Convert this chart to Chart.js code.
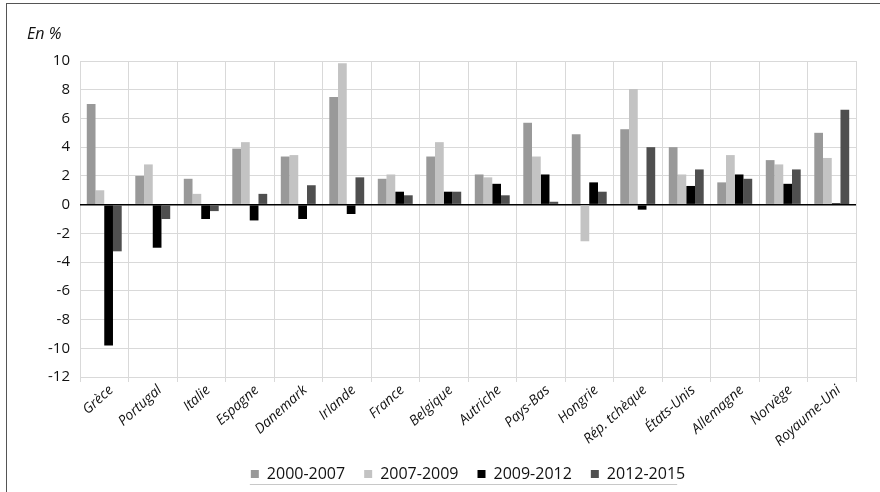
<!DOCTYPE html>
<html>
<head>
<meta charset="utf-8">
<script src="https://cdn.jsdelivr.net/npm/chart.js@4/dist/chart.umd.min.js"></script>
<style>
  html, body { margin: 0; padding: 0; background: #fff; }
  #wrap { position: relative; width: 880px; height: 492px; overflow: hidden; }
  #frame { position: absolute; left: 6px; top: 3px; width: 900px; height: 520px;
           border-left: 1px solid #555; border-top: 1px solid #555; }
  #unit { position: absolute; left: 27px; top: 22px; font: italic 16px "Open Sans", sans-serif; color: #111; }
  canvas { position: absolute; left: 0; top: 0; }
</style>
</head>
<body>
<div id="wrap">
  <div id="frame"></div>
  <canvas id="chart" width="880" height="492"></canvas>
  <div id="unit">En %</div>
</div>
<script>
// --- DATA ---
const countries = ["Grèce", "Portugal", "Italie", "Espagne", "Danemark", "Irlande", "France", "Belgique",
  "Autriche", "Pays-Bas", "Hongrie", "Rép. tchèque", "États-Unis", "Allemagne", "Norvège", "Royaume-Uni"];

const period2000_2007 = [7.0, 2.0, 1.8, 3.9, 3.35, 7.5, 1.8, 3.35, 2.1, 5.7, 4.9, 5.25, 4.0, 1.55, 3.1, 5.0];
const period2007_2009 = [1.0, 2.8, 0.75, 4.35, 3.45, 9.85, 2.1, 4.35, 1.9, 3.35, -2.55, 8.05, 2.1, 3.45, 2.8, 3.25];
const period2009_2012 = [-9.8, -3.0, -1.0, -1.1, -1.0, -0.65, 0.9, 0.9, 1.45, 2.1, 1.55, -0.35, 1.3, 2.1, 1.45, 0.1];
const period2012_2015 = [-3.25, -1.0, -0.45, 0.75, 1.35, 1.9, 0.65, 0.9, 0.65, 0.2, 0.9, 4.0, 2.45, 1.8, 2.45, 6.6];

// --- COLORS ---
const COLORS = {
    p1: '#999999',
    p2: '#c3c3c3',
    p3: '#000000',
    p4: '#4f4f4f'
};

const FONT = '"Open Sans", sans-serif';

// centre the legend under the plot area instead of the whole canvas,
// and draw the thin line under it
const legendTweaks = {
    id: 'legendTweaks',
    afterLayout(chart) {
        const shift = (chart.chartArea.left + chart.chartArea.right) / 2 - (chart.legend.left + chart.legend.right) / 2;
        chart.legend.left += shift;
        chart.legend.right += shift;
    },
    afterDraw(chart) {
        const boxes = chart.legend.legendHitBoxes;
        if (!boxes || !boxes.length) return;
        const first = boxes[0];
        const last = boxes[boxes.length - 1];
        const y = 484;
        const ctx = chart.ctx;
        ctx.save();
        ctx.strokeStyle = '#c8c8c8';
        ctx.lineWidth = 1;
        ctx.beginPath();
        ctx.moveTo(first.left - 1, y + 0.5);
        ctx.lineTo(last.left + last.width - 8, y + 0.5);
        ctx.stroke();
        ctx.restore();
    }
};

const ctx = document.getElementById("chart").getContext("2d");
new Chart(ctx, {
    type: "bar",
    data: {
        labels: countries,
        datasets: [
            { label: "2000-2007", data: period2000_2007, backgroundColor: COLORS.p1 },
            { label: "2007-2009", data: period2007_2009, backgroundColor: COLORS.p2 },
            { label: "2009-2012", data: period2009_2012, backgroundColor: COLORS.p3 },
            { label: "2012-2015", data: period2012_2015, backgroundColor: COLORS.p4 }
        ]
    },
    options: {
        responsive: false,
        animation: false,
        layout: { padding: { top: 61, right: 24, left: 0, bottom: 0 } },
        datasets: { bar: { categoryPercentage: 0.72, barPercentage: 1.0 } },
        scales: {
            x: {
                grid: { color: '#d9d9d9', lineWidth: 1, tickLength: 5, offset: true },
                border: { display: false },
                ticks: {
                    color: '#111',
                    font: { family: FONT, size: 14, style: 'italic' },
                    minRotation: 42,
                    maxRotation: 42,
                    autoSkip: false,
                    padding: 0,
                    labelOffset: 7
                },
                afterFit: (scale) => { scale.height = 70; }
            },
            y: {
                min: -12,
                max: 10,
                ticks: {
                    stepSize: 2,
                    color: '#111',
                    font: { family: FONT, size: 15 },
                    padding: 10
                },
                grid: {
                    color: (c) => c.tick && c.tick.value === 0 ? '#000' : '#d9d9d9',
                    lineWidth: (c) => c.tick && c.tick.value === 0 ? 1.5 : 1,
                    drawTicks: false
                },
                border: { display: false },
                afterFit: (scale) => { scale.width = 80; }
            }
        },
        plugins: {
            legend: {
                position: 'bottom',
                labels: {
                    color: '#111',
                    font: { family: FONT, size: 16 },
                    boxWidth: 8,
                    boxHeight: 8,
                    padding: 19
                }
            },
            tooltip: { enabled: false }
        }
    },
    plugins: [legendTweaks]
});
</script>
</body>
</html>
